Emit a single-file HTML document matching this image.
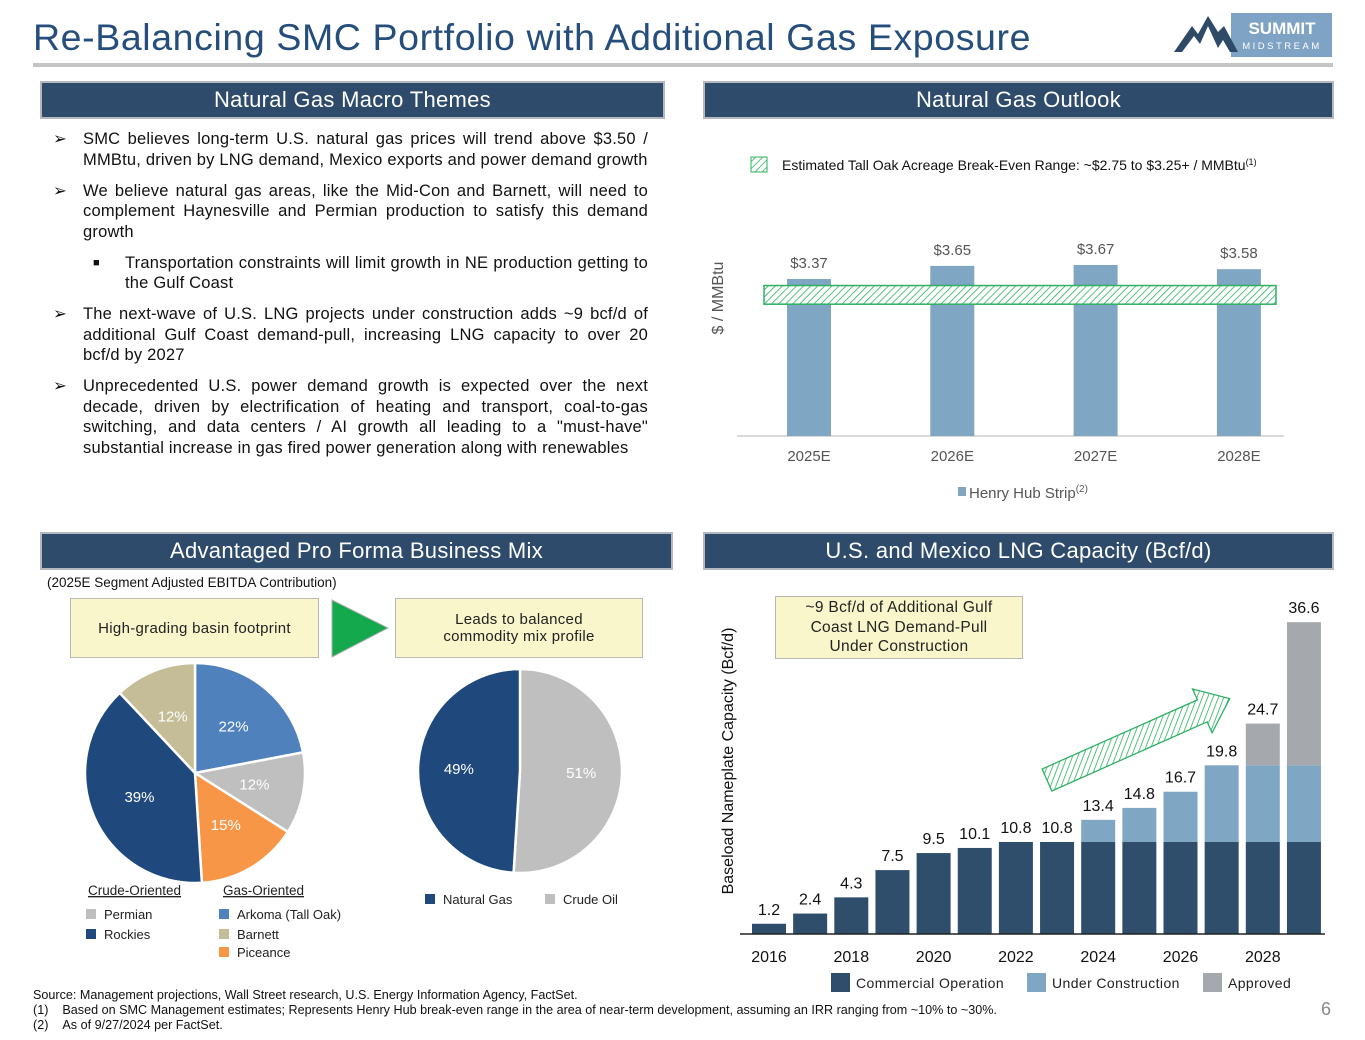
<!DOCTYPE html>
<html><head><meta charset="utf-8">
<style>
body{margin:0;background:#fff;font-family:"Liberation Sans",Arial,sans-serif;}
#root{position:relative;width:1365px;height:1040px;overflow:hidden;}
.hdr{position:absolute;background:#2f4b6b;border:2px solid #b5b9bf;color:#fff;font-size:22px;text-align:center;line-height:34px;height:34px;letter-spacing:0.3px;}
.bul{position:absolute;left:53px;width:595px;font-size:16.5px;line-height:20.5px;color:#111;letter-spacing:0.2px;}
.bul p{margin:0 0 10.5px 30px;text-align:justify;position:relative;}
.bul p span.m{position:absolute;left:-30px;top:0;}
.box{position:absolute;background:#f9f6cc;border:1px solid #b9b9b0;font-size:15px;text-align:center;color:#222;display:flex;align-items:center;justify-content:center;letter-spacing:0.3px;}
.t{position:absolute;white-space:nowrap;}
</style></head><body>
<div id="root">
<div class="t" style="left:33px;top:16px;font-size:37.5px;color:#254e7c;letter-spacing:0.6px;">Re-Balancing SMC Portfolio with Additional Gas Exposure</div>
<div style="position:absolute;left:33px;top:63px;width:1300px;height:4px;background:#c4c4c4;"></div>
<svg style="position:absolute;left:1170px;top:10px" width="165" height="50">
<rect x="61" y="3" width="101" height="44" fill="#7fa3c4"/>
<polygon points="4,42 22,16 28,24 38,6 48,22 54,16 68,42 60,42 53,30 48,38 38,16 30,34 24,26 12,42" fill="#2e4a66"/>
<text x="112" y="24" font-size="17" font-weight="bold" fill="#fff" text-anchor="middle" font-family="Liberation Sans">SUMMIT</text>
<text x="112" y="39" font-size="9.5" fill="#fff" text-anchor="middle" letter-spacing="2.5" font-family="Liberation Sans">MIDSTREAM</text>
</svg>

<div class="hdr" style="left:40px;top:81px;width:621px;">Natural Gas Macro Themes</div>
<div class="hdr" style="left:703px;top:81px;width:627px;">Natural Gas Outlook</div>
<div class="hdr" style="left:40px;top:532px;width:629px;">Advantaged Pro Forma Business Mix</div>
<div class="hdr" style="left:703px;top:532px;width:627px;">U.S. and Mexico LNG Capacity (Bcf/d)</div>

<div class="bul" style="top:129px;">
<p><span class="m">➢</span>SMC believes long-term U.S. natural gas prices will trend above $3.50 / MMBtu, driven by LNG demand, Mexico exports and power demand growth</p>
<p><span class="m">➢</span>We believe natural gas areas, like the Mid-Con and Barnett, will need to complement Haynesville and Permian production to satisfy this demand growth</p>
<p style="margin-left:72px"><span class="m" style="left:-32px;font-size:11px">■</span>Transportation constraints will limit growth in NE production getting to the Gulf Coast</p>
<p><span class="m">➢</span>The next-wave of U.S. LNG projects under construction adds ~9 bcf/d of additional Gulf Coast demand-pull, increasing LNG capacity to over 20 bcf/d by 2027</p>
<p><span class="m">➢</span>Unprecedented U.S. power demand growth is expected over the next decade, driven by electrification of heating and transport, coal-to-gas switching, and data centers / AI growth all leading to a "must-have" substantial increase in gas fired power generation along with renewables</p>
</div>

<svg id="hh" style="position:absolute;left:0;top:0" width="1365" height="1040">
<defs>
<pattern id="hatch" width="5" height="5" patternUnits="userSpaceOnUse" patternTransform="rotate(45)">
<rect width="5" height="5" fill="#fff"/><line x1="0" y1="0" x2="0" y2="5" stroke="#2eb062" stroke-width="1.6"/>
</pattern>
</defs>
</svg>

<div class="t" style="left:47px;top:575px;font-size:13.5px;color:#111;">(2025E Segment Adjusted EBITDA Contribution)</div>
<div class="box" style="left:70px;top:598px;width:247px;height:58px;">High-grading basin footprint</div>
<svg style="position:absolute;left:330px;top:598px" width="60" height="62"><polygon points="2,2 58,30 2,59" fill="#14a94c" stroke="#b0b0b0"/></svg>
<div class="box" style="left:395px;top:598px;width:246px;height:58px;">Leads to balanced<br>commodity mix profile</div>

<svg id="pies" style="position:absolute;left:0;top:0" width="700" height="1040"></svg>

<div class="box" style="left:775px;top:596px;width:246px;height:61px;font-size:15.5px;line-height:19.5px;">~9 Bcf/d of Additional Gulf<br>Coast LNG Demand-Pull<br>Under Construction</div>
<svg id="lng" style="position:absolute;left:0;top:0" width="1365" height="1040"></svg>

<div class="t" style="left:33px;top:988px;font-size:12.6px;line-height:15px;color:#111;">Source: Management projections, Wall Street research, U.S. Energy Information Agency, FactSet.<br>(1)&nbsp;&nbsp;&nbsp;&nbsp;Based on SMC Management estimates; Represents Henry Hub break-even range in the area of near-term development, assuming an IRR ranging from ~10% to ~30%.<br>(2)&nbsp;&nbsp;&nbsp;&nbsp;As of 9/27/2024 per FactSet.</div>
<div class="t" style="left:1321px;top:999px;font-size:18px;color:#888;">6</div>
</div>

<script>
const NS='http://www.w3.org/2000/svg';
function mk(p,tag,a,txt){const e=document.createElementNS(NS,tag);for(const k in a)e.setAttribute(k,a[k]);if(txt!==undefined)e.textContent=txt;p.appendChild(e);return e;}

// ---- Henry Hub chart ----
const hhCategories=['2025E','2026E','2027E','2028E'];
const hhValues=[3.37,3.65,3.67,3.58];
const hhLabels=['$3.37','$3.65','$3.67','$3.58'];
const breakEvenRange=[2.75,3.25];
(function(){
const s=document.getElementById('hh');
const base=436,k=46.6,x0=737,x1=1284;
const y=v=>base-v*k;
const step=143.3;
const cx=i=>809+step*i;
mk(s,'line',{x1:x0,x2:x1,y1:base,y2:base,stroke:'#d9d9d9','stroke-width':2});
hhValues.forEach((v,i)=>{
 const r=mk(s,'rect',{x:cx(i)-22,y:y(v),width:44,height:base-y(v),fill:'#7fa6c3'});
 
 
 const t=mk(s,'text',{x:cx(i),y:y(v)-11,'font-size':15,fill:'#555','text-anchor':'middle'},hhLabels[i]);
 
 
 const c=mk(s,'text',{x:cx(i),y:461,'font-size':15,fill:'#555','text-anchor':'middle'},hhCategories[i]);
 
 
});
const band=mk(s,'rect',{x:764,y:y(breakEvenRange[1])+1,width:512,height:(breakEvenRange[1]-breakEvenRange[0])*k*0.8,fill:'url(#hatch)',stroke:'#2eb062','stroke-width':1.5});


const yl=mk(s,'text',{x:0,y:0,'font-size':16,fill:'#555','text-anchor':'middle',transform:'translate(723,298) rotate(-90)'},'$ / MMBtu');


const lb=mk(s,'rect',{x:751,y:157,width:16,height:15,fill:'url(#hatch)',stroke:'#2eb062'});


const lt=mk(s,'text',{x:782,y:170,'font-size':14,fill:'#111'},'Estimated Tall Oak Acreage Break-Even Range: ~$2.75 to $3.25+ / MMBtu');
mk(lt,'tspan',{'font-size':9,dy:-5},'(1)');


const l2=mk(s,'rect',{x:958,y:487,width:8,height:9,fill:'#7fa6c3'});


const l3=mk(s,'text',{x:969,y:498,'font-size':15,fill:'#555'},'Henry Hub Strip');
mk(l3,'tspan',{'font-size':10,dy:-6},'(2)');


})();

// ---- Pie charts ----
const basinNames=['Arkoma (Tall Oak)','Permian','Piceance','Rockies','Barnett'];
const basinValues=[22,12,15,39,12];
const basinColors=['#4f81bd','#bfbfbf','#f79646','#1f497d','#c4bd97'];
const mixNames=['Crude Oil','Natural Gas'];
const mixValues=[51,49];
const mixColors=['#bfbfbf','#1f497d'];
(function(){
const s=document.getElementById('pies');
function pie(cx,cy,r,vals,cols,names,rf){
 const tot=vals.reduce((a,b)=>a+b,0);let a0=0;
 vals.forEach((v,i)=>{
  const a1=a0+v/tot*2*Math.PI;
  const p=(a)=>[cx+r*Math.sin(a),cy-r*Math.cos(a)];
  const [x0,y0]=p(a0),[x1,y1]=p(a1);
  const big=(a1-a0)>Math.PI?1:0;
  const path=mk(s,'path',{d:`M${cx},${cy} L${x0},${y0} A${r},${r} 0 ${big} 1 ${x1},${y1} Z`,fill:cols[i],stroke:'#fff','stroke-width':2.5});
  
  
  const am=(a0+a1)/2,rr=r*rf;
  const t=mk(s,'text',{x:cx+rr*Math.sin(am),y:cy-rr*Math.cos(am)+5,'font-size':15,fill:'#fff','text-anchor':'middle'},v+'%');
  
  
  a0=a1;
 });
}
pie(195,773,110,basinValues,basinColors,basinNames,0.55);
pie(520,771,102,mixValues,mixColors,mixNames,0.6);
function leg(x,y,c,txt,name){
 const r=mk(s,'rect',{x:x,y:y-9,width:10,height:10,fill:c});
 
 
 const t=mk(s,'text',{x:x+18,y:y+1,'font-size':13,fill:'#222'},txt);
 
 
}
const h1=mk(s,'text',{x:88,y:895,'font-size':13.5,fill:'#222','text-decoration':'underline'},'Crude-Oriented');


const h2=mk(s,'text',{x:223,y:895,'font-size':13.5,fill:'#222','text-decoration':'underline'},'Gas-Oriented');


leg(86,918,basinColors[1],'Permian','legend-permian');
leg(86,938,basinColors[3],'Rockies','legend-rockies');
leg(219,918,basinColors[0],'Arkoma (Tall Oak)','legend-arkoma');
leg(219,938,basinColors[4],'Barnett','legend-barnett');
leg(219,956,basinColors[2],'Piceance','legend-piceance');
leg(425,903,mixColors[1],'Natural Gas','legend-natural-gas');
leg(545,903,mixColors[0],'Crude Oil','legend-crude-oil');
})();

// ---- LNG chart ----
const lngYears=[2016,2017,2018,2019,2020,2021,2022,2023,2024,2025,2026,2027,2028,2029];
const commercial=[1.2,2.4,4.3,7.5,9.5,10.1,10.8,10.8,10.8,10.8,10.8,10.8,10.8,10.8];
const underConstruction=[0,0,0,0,0,0,0,0,2.6,4.0,5.9,9.0,9.0,9.0];
const approved=[0,0,0,0,0,0,0,0,0,0,0,0,4.9,16.8];
const lngTotals=['1.2','2.4','4.3','7.5','9.5','10.1','10.8','10.8','13.4','14.8','16.7','19.8','24.7','36.6'];
(function(){
const s=document.getElementById('lng');
const base=934,k=8.52,cx0=769,step=41.15,bw=34;
const y=v=>base-v*k;
const cx=i=>cx0+step*i;
const series=[[commercial,'#2f4e6b','commercial-bar'],[underConstruction,'#7fa6c3','under-construction-bar'],[approved,'#a5a9ad','approved-bar']];
lngYears.forEach((yr,i)=>{
 let acc=0;
 series.forEach(([arr,c,n])=>{
  const v=arr[i];if(v<=0)return;
  const r=mk(s,'rect',{x:cx(i)-bw/2,y:y(acc+v),width:bw,height:v*k,fill:c});
  
  
  acc+=v;
 });
 const t=mk(s,'text',{x:cx(i),y:y(acc)-9,'font-size':16,fill:'#111','text-anchor':'middle'},lngTotals[i]);
 
 
 if(yr%2===0){
  const xl=mk(s,'text',{x:cx(i),y:962,'font-size':16,fill:'#111','text-anchor':'middle'},String(yr));
  
  
 }
});
mk(s,'line',{x1:740,x2:1325,y1:base,y2:base,stroke:'#222','stroke-width':1.5});
const yl=mk(s,'text',{x:0,y:0,'font-size':16,fill:'#111','text-anchor':'middle',transform:'translate(733,761) rotate(-90)'},'Baseload Nameplate Capacity (Bcf/d)');


const ar=mk(s,'polygon',{points:'0,-12 170,-12 170,-24 200,0 170,24 170,12 0,12',fill:'url(#hatch)',stroke:'#2eb062','stroke-width':1.3,transform:'translate(1047,780) rotate(-24)'});


const legs=[[831,'#2f4e6b','Commercial Operation','legend-commercial'],[1027,'#7fa6c3','Under Construction','legend-under-construction'],[1203,'#a5a9ad','Approved','legend-approved']];
legs.forEach(([x,c,t,n])=>{
 const r=mk(s,'rect',{x:x,y:973,width:19,height:19,fill:c});
 
 
 const tt=mk(s,'text',{x:x+25,y:988,'font-size':14,fill:'#222','letter-spacing':'0.4'},t);
 
 
});
})();
(function(){const d=document.querySelector('#hh defs').cloneNode(true);document.getElementById('lng').insertBefore(d,document.getElementById('lng').firstChild);})();
</script>
</body></html>
